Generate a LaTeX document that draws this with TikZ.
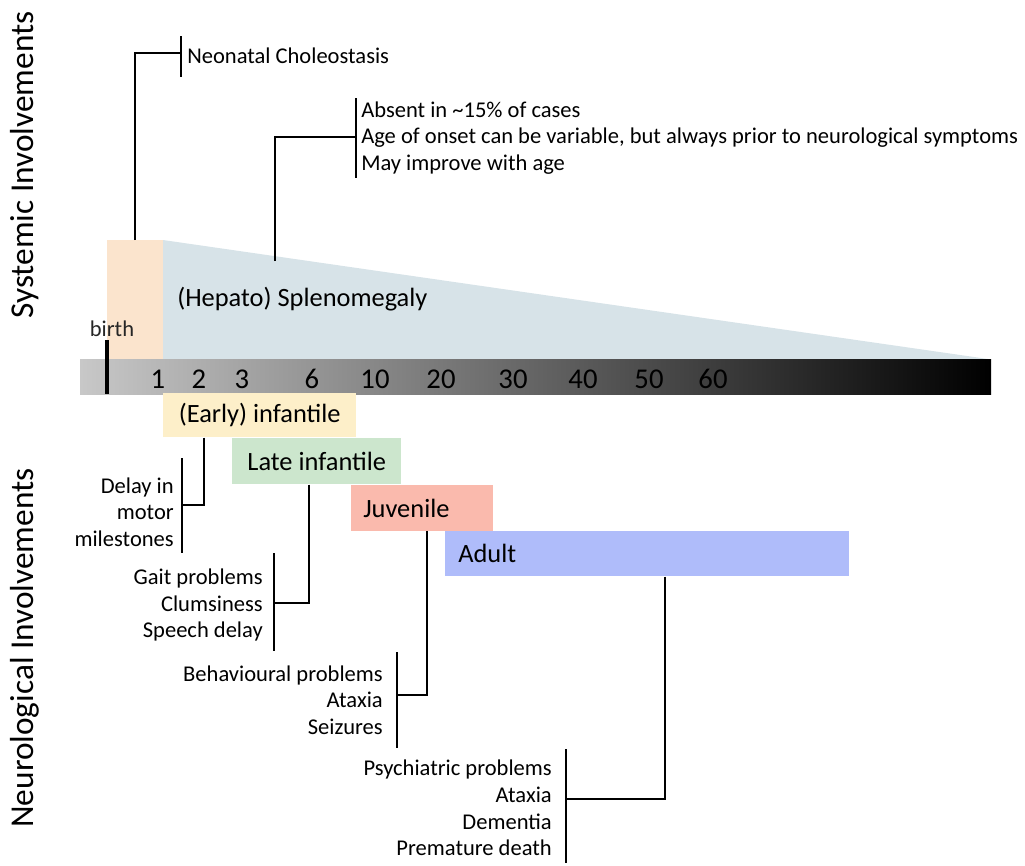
\documentclass[tikz,border=0pt]{standalone}
\usepackage{fontspec}
\setmainfont{Carlito}
\definecolor{bargray}{RGB}{200,200,200}
\definecolor{peach}{RGB}{251,228,205}
\definecolor{spleen}{RGB}{215,227,232}
\definecolor{earlyc}{RGB}{253,239,201}
\definecolor{latec}{RGB}{204,230,205}
\definecolor{juvc}{RGB}{250,186,173}
\definecolor{adultc}{RGB}{175,188,250}
\begin{document}
\begin{tikzpicture}[x=0.75pt,y=-0.75pt,
  body/.style={font=\fontsize{16.9}{19.9}\selectfont, inner sep=0pt},
  lbl/.style={font=\fontsize{19.8}{23}\selectfont},
  agebox/.style={draw=none, inner sep=0pt, anchor=north west, lbl},
  conn/.style={line width=1.4pt},
  side/.style={font=\fontsize{25}{30}\selectfont, rotate=90, inner sep=0pt},
  num/.style={font=\fontsize{21.5}{25}\selectfont, inner sep=0pt}]
\useasboundingbox (0,0) rectangle (1025,865);

% systemic shapes
\node[fill=peach, minimum width=42pt, minimum height=89.25pt, anchor=north west, inner sep=0pt] (neo) at (107,240) {};
\fill[spleen] (163,240) -- (988,359) -- (163,359) -- cycle;
\node[lbl, anchor=west, inner sep=0pt] (spl) at (177,299) {(Hepato) Splenomegaly};

% age bar
\shade[left color=bargray, right color=black] (80,359) rectangle (991,394);
\coordinate (birthtop) at (107,340);
\coordinate (birthbot) at (107,394);
\draw[line width=2.4pt] (birthtop) -- (birthbot);
\node[body, anchor=base, text=black!85] (birth) at (112,336) {birth};
\foreach \x/\t in {158/1,199/2,242/3,312/6,375/10,441/20,513/30,583/40,649/50,713/60}
  \node[num] (n\t) at (\x,379) {\t};

% age boxes
\node[agebox, fill=earlyc, minimum width=144.75pt, minimum height=33pt] (early) at (163,393) {\raisebox{-2pt}{(Early) infantile}};
\node[agebox, fill=latec, minimum width=126.75pt, minimum height=34.5pt] (late) at (232,438) {Late infantile};
\node[agebox, fill=juvc, text width=88.5pt, inner xsep=9pt, minimum height=34pt, align=left] (juv) at (351,485) {Juvenile};
\node[agebox, fill=adultc, text width=283.5pt, inner xsep=9.75pt, minimum height=33.75pt, align=left] (adult) at (445,531) {Adult};

% systemic brackets
\coordinate (nc) at (181,53);
\draw[conn] (neo.north) |- (nc);
\draw[conn] (181,36) -- (181,77);
\node[body, anchor=west] (nctext) at (187,56) {Neonatal Choleostasis};

\coordinate (sa) at (275,261);
\coordinate (sb) at (356,137);
\draw[conn] (sa) |- (sb);
\draw[conn] (356,98) -- (356,178);
\node[body, anchor=west, align=left] (stext) at (361,138) {Absent in \textasciitilde15\% of cases\\Age of onset can be variable, but always prior to neurological symptoms\\May improve with age};

% neurological brackets
\coordinate (ea) at (204,505);
\coordinate (eb) at (182,505);
\draw[conn] (ea |- early.south) |- (eb);
\draw[conn] (182,458) -- (182,553);
\node[body, anchor=east, align=right] (etext) at (174,512) {Delay in\\motor\\milestones};

\coordinate (la) at (309,603);
\coordinate (lb) at (274,603);
\draw[conn] (la |- late.south) |- (lb);
\draw[conn] (274,553) -- (274,651);
\node[body, anchor=east, align=right] (ltext) at (263,605) {Gait problems\\Clumsiness\\Speech delay};

\coordinate (ja) at (427,695);
\coordinate (jb) at (397,695);
\draw[conn] (ja |- juv.south) |- (jb);
\draw[conn] (397,652) -- (397,748);
\node[body, anchor=east, align=right] (jtext) at (383,700) {Behavioural problems\\Ataxia\\Seizures};

\coordinate (aa) at (665,799);
\coordinate (ab) at (566,799);
\draw[conn] (aa |- adult.south) |- (ab);
\draw[conn] (566,749) -- (566,863);
\node[body, anchor=east, align=right] (atext) at (552,808) {Psychiatric problems\\Ataxia\\Dementia\\Premature death};

% side labels
\node[side] (sys) at (25,165) {Systemic Involvements};
\node[side] (neu) at (25,648) {Neurological Involvements};
\end{tikzpicture}
\end{document}
